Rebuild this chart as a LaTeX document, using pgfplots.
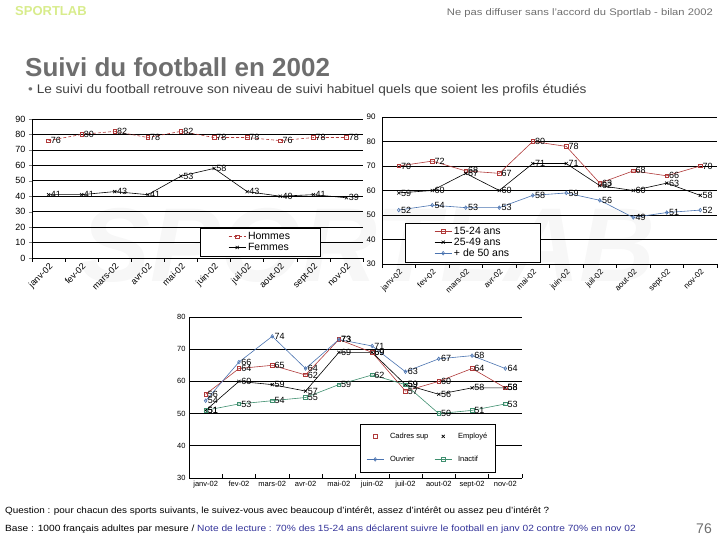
\documentclass[border=0pt]{standalone}
\usepackage{fontspec}
\setmainfont{Liberation Sans}
\usepackage{graphicx}
\usepackage{pgfplots}
\pgfplotsset{compat=1.18}
\definecolor{hred}{HTML}{B03A3A}
\definecolor{oblue}{HTML}{4A73B0}
\definecolor{igreen}{HTML}{3F8F6F}
\definecolor{hdrgreen}{HTML}{D8EC8C}
\definecolor{titlegray}{HTML}{6E6E6E}
\definecolor{noteblue}{HTML}{333399}
\pgfplotsset{
  /pgf/number format/assume math mode=true,
  panel/.style={
    scale only axis, anchor=south west, clip=false,
    axis x line*=bottom, axis y line*=left,
    xmin=0, xmax=10,
    xtick={0.5,1.5,...,9.5},
    xticklabels={janv-02,fev-02,mars-02,avr-02,mai-02,juin-02,juil-02,aout-02,sept-02,nov-02},
    minor xtick={0,1,...,10},
    major x tick style={draw=none},
    minor x tick style={black, line width=0.5pt},
    minor tick length=4pt, major tick length=3pt,
    tick align=outside,
    ymajorgrids, grid style={black, line width=0.6pt},
    axis line style={black, line width=0.6pt},
    every axis plot/.append style={line width=0.6pt, mark size=1.8pt, mark options={solid, fill=white}},
    nodes near coords,
    every node near coord/.append style={anchor=west, font=\fontsize{9}{9}\selectfont, inner sep=1pt, black, xshift=1pt},
    tick label style={font=\fontsize{8}{9}\selectfont},
  },
}
\begin{document}
\begin{tikzpicture}[x=1pt,y=1pt]
\path[use as bounding box] (0,0) rectangle (720,540);
% watermark
\node[text=black!3, font=\fontsize{105}{105}\selectfont\bfseries\itshape] at (368,295) {SPORTLAB};
% header
\node[anchor=base west, inner sep=0, text=hdrgreen, font=\fontsize{13}{13}\selectfont\bfseries] at (15,524) {SPORTLAB};
\node[anchor=base east, inner sep=0, text=titlegray, font=\fontsize{9.5}{9.5}\selectfont] at (713,524) {\scalebox{1.18}[1]{Ne pas diffuser sans l'accord du Sportlab - bilan 2002}};
\node[anchor=base west, inner sep=0, text=titlegray, font=\fontsize{26}{26}\selectfont\bfseries] at (25,463) {Suivi du football en 2002};
\node[anchor=base west, inner sep=0, text=black!75, font=\fontsize{12.5}{13}\selectfont] at (28,446) {\scalebox{1.09}[1]{\textcolor{black!55}{•} Le suivi du football retrouve son niveau de suivi habituel quels que soient les profils étudiés}};

% Panel 1
\begin{axis}[panel, at={(32pt,282pt)}, width=331pt, height=139pt,
  ymin=0, ymax=90, ytick={0,10,...,90},
  tick label style={font=\fontsize{9}{10}\selectfont},
  x tick label style={rotate=45, anchor=north east, inner sep=1pt},
  legend style={at={(0.508,0.014)}, anchor=south west, draw=black, fill=white,
    font=\fontsize{10.5}{11}\selectfont, inner xsep=28pt, inner ysep=2pt, cells={anchor=west}, row sep=-2pt},
  legend cell align=left]
\addplot[color=hred, mark=square, densely dashed] coordinates {(0.5,76) (1.5,80) (2.5,82) (3.5,78) (4.5,82) (5.5,78) (6.5,78) (7.5,76) (8.5,78) (9.5,78)};
\addlegendentry{Hommes}
\addplot[color=black, mark=x, mark size=2.2pt] coordinates {(0.5,41) (1.5,41) (2.5,43) (3.5,41) (4.5,53) (5.5,58) (6.5,43) (7.5,40) (8.5,41) (9.5,39)};
\addlegendentry{Femmes}
\end{axis}

% Panel 2
\begin{axis}[panel, at={(382pt,276pt)}, width=335pt, height=147pt,
  ymin=30, ymax=90, ytick={30,40,...,90},
  x axis line style={draw=none},
  y tick style={draw=none},
  x tick label style={rotate=45, anchor=north east, inner sep=1pt},
  legend style={at={(0.069,0.014)}, anchor=south west, draw=black, fill=white,
    font=\fontsize{10.5}{11}\selectfont, inner xsep=29pt, inner ysep=2pt, cells={anchor=west}, row sep=-2pt},
  legend cell align=left]
\addplot[color=hred, mark=square] coordinates {(0.5,70) (1.5,72) (2.5,68) (3.5,67) (4.5,80) (5.5,78) (6.5,63) (7.5,68) (8.5,66) (9.5,70)};
\addlegendentry{15-24 ans}
\addplot[color=black, mark=x, mark size=2.2pt] coordinates {(0.5,59) (1.5,60) (2.5,67) (3.5,60) (4.5,71) (5.5,71) (6.5,62) (7.5,60) (8.5,63) (9.5,58)};
\addlegendentry{25-49 ans}
\addplot[color=oblue, mark=diamond] coordinates {(0.5,52) (1.5,54) (2.5,53) (3.5,53) (4.5,58) (5.5,59) (6.5,56) (7.5,49) (8.5,51) (9.5,52)};
\addlegendentry{+ de 50 ans}
\end{axis}

% Panel 3
\begin{axis}[panel, at={(189pt,62pt)}, width=333pt, height=161pt,
  ymin=30, ymax=80, ytick={30,40,...,80},
  x axis line style={draw=none},
  y tick style={draw=none},
  tick align=inside,
  tick label style={font=\fontsize{7.5}{8}\selectfont},
  legend style={at={(0.514,0.037)}, anchor=south west, draw=black, fill=white,
    font=\fontsize{7.5}{8}\selectfont, inner xsep=6pt, inner ysep=7pt, row sep=12pt, column sep=4pt, cells={anchor=west}},
  legend columns=2]
\addlegendimage{only marks, color=hred, mark=square, mark size=1.8pt, mark options={fill=white}}
\addlegendentry{Cadres sup}
\addlegendimage{only marks, color=black, mark=x, mark size=2.2pt}
\addlegendentry{Employé}
\addlegendimage{color=oblue, mark=diamond, line width=0.6pt, mark size=1.8pt, mark options={fill=white}}
\addlegendentry{Ouvrier}
\addlegendimage{color=igreen, mark=square, line width=0.6pt, mark size=1.8pt, mark options={fill=white}}
\addlegendentry{Inactif}
\addplot[color=hred, mark=square, forget plot] coordinates {(0.5,56) (1.5,64) (2.5,65) (3.5,62) (4.5,73) (5.5,69) (6.5,57) (7.5,60) (8.5,64) (9.5,58)};
\addplot[color=black, mark=x, mark size=2.2pt, forget plot] coordinates {(0.5,51) (1.5,60) (2.5,59) (3.5,57) (4.5,69) (5.5,69) (6.5,59) (7.5,56) (8.5,58) (9.5,58)};
\addplot[color=oblue, mark=diamond, forget plot] coordinates {(0.5,54) (1.5,66) (2.5,74) (3.5,64) (4.5,73) (5.5,71) (6.5,63) (7.5,67) (8.5,68) (9.5,64)};
\addplot[color=igreen, mark=square, forget plot] coordinates {(0.5,51) (1.5,53) (2.5,54) (3.5,55) (4.5,59) (5.5,62) (6.5,59) (7.5,50) (8.5,51) (9.5,53)};
\end{axis}

% footer
\node[anchor=base west, inner sep=0, font=\fontsize{9}{9}\selectfont] at (5,26) {\scalebox{1.1}[1]{Question : pour chacun des sports suivants, le suivez-vous avec beaucoup d'intérêt, assez d'intérêt ou assez peu d'intérêt ?}};
\node[anchor=base west, inner sep=0, font=\fontsize{9}{9}\selectfont] at (5,8) {\scalebox{1.13}[1]{Base : 1000 français adultes par mesure / \textcolor{noteblue}{Note de lecture : 70\% des 15-24 ans déclarent suivre le football en janv 02 contre 70\% en nov 02}}};
\node[anchor=base east, inner sep=0, text=titlegray, font=\fontsize{14}{14}\selectfont] at (712,6) {76};
\end{tikzpicture}
\end{document}
